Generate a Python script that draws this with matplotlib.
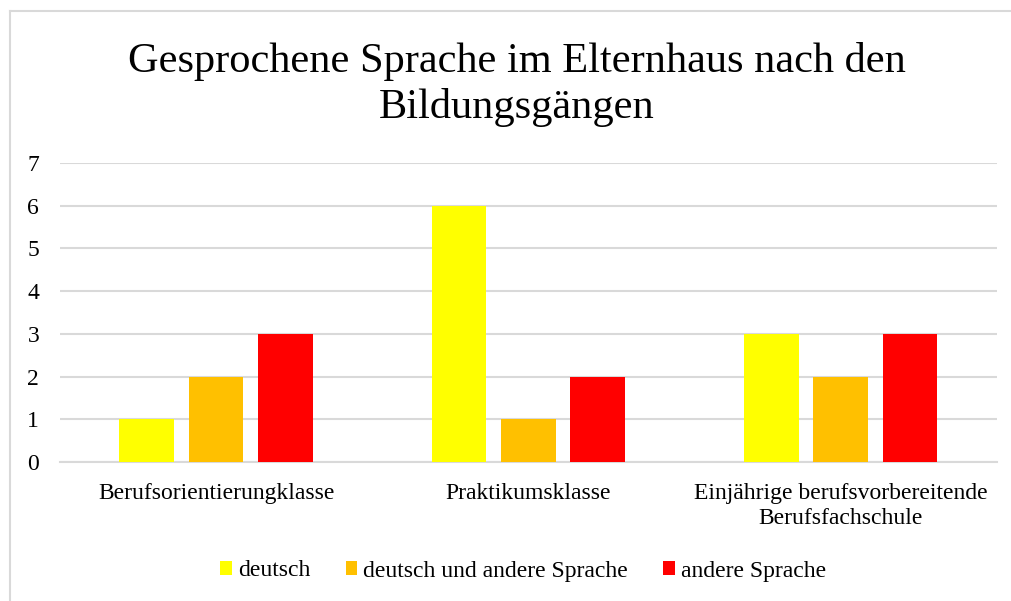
import numpy as np
import matplotlib.pyplot as plt
from matplotlib.lines import Line2D

# chart data
categories = ['Berufsorientierungklasse', 'Praktikumsklasse',
              'Einjährige berufsvorbereitende\nBerufsfachschule']
series = ['deutsch', 'deutsch und andere Sprache', 'andere Sprache']
deutsch = [1, 6, 3]
gemischt = [2, 1, 2]
andere = [3, 2, 3]
colors = ['#FFFF00', '#FFC000', '#FF0000']

plt.rcParams['font.family'] = ['Liberation Serif', 'DejaVu Serif']

fig = plt.figure(figsize=(10.12, 6.01), dpi=100)
ax = fig.add_axes([0.0593, 0.2313, 0.9257, 0.4975])

x = np.arange(len(categories))
width = 0.175
step = 0.222
for i, (vals, name) in enumerate(zip([deutsch, gemischt, andere], series)):
    ax.bar(x + (i - 1) * step, vals, width, color=colors[i], label=name, zorder=3)

ax.set_xlim(-0.5, 2.5)
ax.set_ylim(0, 7)
ax.set_yticks(range(8))
ax.set_xticks(x)
ax.set_xticklabels(categories, fontsize=17, linespacing=1.25)
ax.tick_params(axis='both', length=0, labelsize=17, colors='black')
ax.tick_params(axis='y', pad=15)
ax.tick_params(axis='x', pad=15)
ax.grid(axis='y', color='#D9D9D9', linewidth=1.5, zorder=0)
for s in ['top', 'right', 'left']:
    ax.spines[s].set_visible(False)
ax.spines['bottom'].set_color('#D9D9D9')
ax.spines['bottom'].set_linewidth(1.5)

fig.text(0.511, 1 - 42 / 601, 'Gesprochene Sprache im Elternhaus nach den\nBildungsgängen',
         ha='center', va='top', fontsize=30.5, linespacing=1.24)

leg = fig.legend(loc='center', bbox_to_anchor=(0.517, 1 - 571 / 601), ncol=3, frameon=False,
                 fontsize=17, handlelength=0.5, handleheight=0.5,
                 handletextpad=0.25, columnspacing=1.5)

# chart area border (top and left visible)
fig.add_artist(Line2D([10 / 1012, 1], [1 - 11 / 601, 1 - 11 / 601],
                      transform=fig.transFigure, color='#D9D9D9', linewidth=1.5))
fig.add_artist(Line2D([10 / 1012, 10 / 1012], [0, 1 - 11 / 601],
                      transform=fig.transFigure, color='#D9D9D9', linewidth=1.5))

fig.savefig('out.png', dpi=100)
